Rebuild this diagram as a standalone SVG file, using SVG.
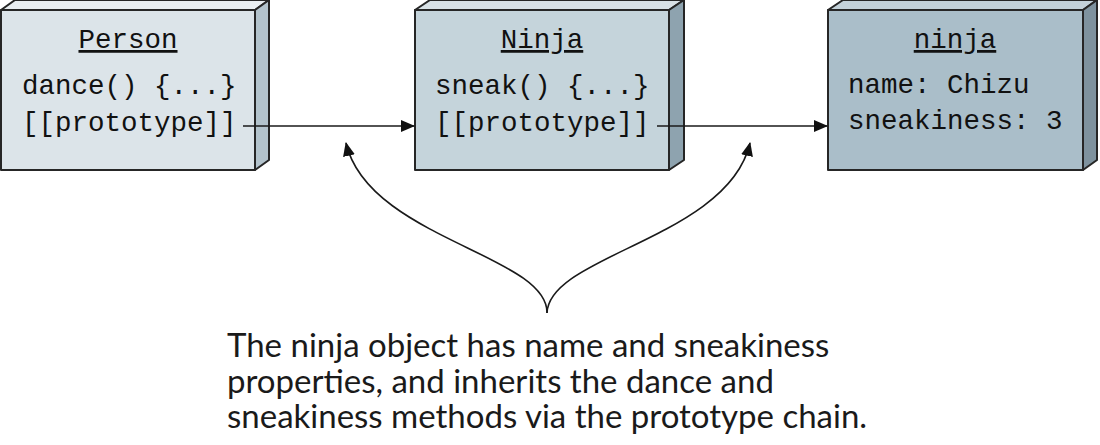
<svg xmlns="http://www.w3.org/2000/svg" width="1100" height="445" viewBox="0 0 1100 445">
<style>
.edge{stroke:#262626;stroke-width:2;stroke-linejoin:round}
.code{font-family:"Liberation Mono","Courier New",monospace;font-size:27.5px;fill:#111}
.title{text-decoration:underline}
.conn{fill:none;stroke:#1a1a1a;stroke-width:1.6}
.cap{font-family:Lato,"Open Sans",sans-serif;font-size:33px;fill:#1a1a1a}
</style>
<defs>
<marker id="ah" viewBox="0 0 14 12" refX="13" refY="6" markerWidth="14" markerHeight="12" markerUnits="userSpaceOnUse" orient="auto">
<path d="M0,0 L14,6 L0,12 Z" fill="#111"/>
</marker>
</defs>
<g id="person">
<path class="edge" d="M1,10 L15,0 L269,0 L255,10 Z" fill="#e9eef1"/>
<path class="edge" d="M255,10 L269,0 L269,160 L255,170 Z" fill="#b3c3cc"/>
<rect class="edge" x="1" y="10" width="254" height="160" fill="#dce4e9"/>
<text class="code title" x="128" y="48" text-anchor="middle">Person</text>
<text class="code" x="22" y="94">dance() {...}</text>
<text class="code" x="22" y="131">[[prototype]]</text>
</g>
<g id="Ninja">
<path class="edge" d="M415,10 L430,0 L684,0 L669,10 Z" fill="#d8e1e6"/>
<path class="edge" d="M669,10 L684,0 L684,160 L669,170 Z" fill="#8ea3af"/>
<rect class="edge" x="415" y="10" width="254" height="160" fill="#c5d4db"/>
<text class="code title" x="542" y="48" text-anchor="middle">Ninja</text>
<text class="code" x="435" y="94">sneak() {...}</text>
<text class="code" x="435" y="131">[[prototype]]</text>
</g>
<g id="ninja">
<path class="edge" d="M828,10 L843,0 L1097,0 L1083,10 Z" fill="#c3d1d9"/>
<path class="edge" d="M1083,10 L1097,0 L1097,160 L1083,170 Z" fill="#7e929e"/>
<rect class="edge" x="828" y="10" width="255" height="160" fill="#aabec9"/>
<text class="code title" x="955" y="48" text-anchor="middle">ninja</text>
<text class="code" x="848" y="93">name: Chizu</text>
<text class="code" x="848" y="129">sneakiness: 3</text>
</g>
<g id="connectors">
<path class="conn" d="M243,126 L414,126" marker-end="url(#ah)"/>
<path class="conn" d="M657,126 L827,126" marker-end="url(#ah)"/>
<path class="conn" d="M547,313 C548,255 368,238 346,143" marker-end="url(#ah)"/>
<path class="conn" d="M547,313 C549,255 728,238 750,143" marker-end="url(#ah)"/>
</g>
<g id="caption">
<text class="cap" x="227" y="357">The ninja object has name and sneakiness</text>
<text class="cap" x="227" y="392.5">properties, and inherits the dance and</text>
<text class="cap" x="227" y="428">sneakiness methods via the prototype chain.</text>
</g>
</svg>
